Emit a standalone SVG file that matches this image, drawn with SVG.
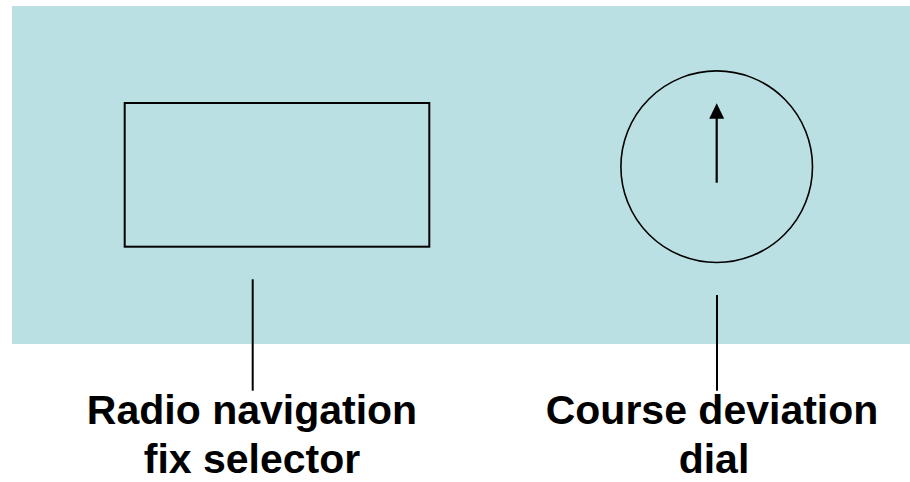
<svg xmlns="http://www.w3.org/2000/svg" width="910" height="482" viewBox="0 0 910 482">
<defs>
<style>
.ln{stroke:#000;stroke-width:2;fill:none}
.lbl{font-family:"Liberation Sans",Arial,sans-serif;font-weight:bold;font-size:41px;fill:#000;text-anchor:middle}
</style>
</defs>
<rect id="panel" x="12" y="6" width="898" height="338" fill="#BBE0E3"/>
<g id="fix-selector">
<rect x="124.7" y="103" width="304.6" height="143.7" class="ln"/>
</g>
<g id="course-dial">
<circle cx="716.7" cy="166.7" r="95.8" stroke="#000" stroke-width="1.6" fill="none"/>
<line x1="716.7" y1="182.7" x2="716.7" y2="116" stroke="#000" stroke-width="2.2"/>
<polygon points="716.7,103.3 709.2,118.8 724.2,118.8" fill="#000"/>
</g>
<g id="connectors">
<line x1="252.7" y1="279.3" x2="252.7" y2="390.7" class="ln"/>
<line x1="717" y1="295" x2="717" y2="390.7" class="ln"/>
</g>
<g id="label-fix">
<text class="lbl" x="252" y="424">Radio navigation</text>
<text class="lbl" x="252" y="473">fix selector</text>
</g>
<g id="label-dial">
<text class="lbl" x="712" y="424">Course deviation</text>
<text class="lbl" x="714" y="473">dial</text>
</g>
</svg>
